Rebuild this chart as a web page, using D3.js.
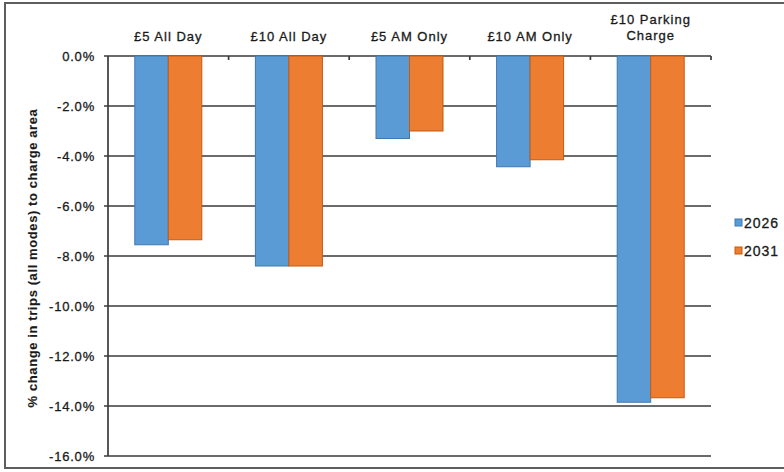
<!DOCTYPE html>
<html>
<head>
<meta charset="utf-8">
<script src="https://cdn.jsdelivr.net/npm/d3@7"></script>
<style>
  body { margin: 0; background: #fff; }
  text { font-family: "Liberation Sans", Arial, sans-serif; fill: #1a1a1a; stroke: #1a1a1a; stroke-width: 0.3px; }
</style>
</head>
<body>
<script>
// chart data
var categories = ["£5 All Day", "£10 All Day", "£5 AM Only", "£10 AM Only", "£10 Parking Charge"];
var series = ["2026", "2031"];
var values2026 = [-7.55, -8.4, -3.3, -4.43, -13.85];
var values2031 = [-7.35, -8.4, -3.0, -4.15, -13.67];
var yTicks = [0, -2, -4, -6, -8, -10, -12, -14, -16];

var colors = {"2026": "#5b9bd5", "2031": "#ed7d31"};
var edges = {"2026": "#3e78b0", "2031": "#c55a11"};

var width = 784, height = 472;
var svg = d3.select("body").append("svg")
    .attr("width", width)
    .attr("height", height);

// frame round the chart
svg.append("rect")
    .attr("x", 5).attr("y", 3)
    .attr("width", 820).attr("height", 465)
    .attr("fill", "none")
    .attr("stroke", "#5e5e5e")
    .attr("stroke-width", 2);

var x0 = d3.scaleBand().domain(categories).range([108, 711]).padding(0);
var x1 = d3.scaleBand().domain(series).range([0, x0.bandwidth()])
    .paddingInner(0).paddingOuter(0.8);
var y = d3.scaleLinear().domain([-16, 0]).range([456, 56]);

// gridlines
svg.append("g")
  .selectAll("line")
  .data(yTicks)
  .enter().append("line")
    .attr("x1", 104).attr("x2", 711)
    .attr("y1", function(d){ return y(d); })
    .attr("y2", function(d){ return y(d); })
    .attr("stroke", "#3a3a3a")
    .attr("stroke-width", 1.7);

// y axis line
svg.append("line")
    .attr("x1", 108).attr("x2", 108)
    .attr("y1", y(0)).attr("y2", y(-16))
    .attr("stroke", "#3a3a3a")
    .attr("stroke-width", 1.7);

// y tick labels
svg.append("g")
  .selectAll("text")
  .data(yTicks)
  .enter().append("text")
    .attr("x", 95)
    .attr("y", function(d){ return y(d); })
    .attr("dy", "0.36em")
    .attr("text-anchor", "end")
    .style("font-size", "13px")
    .style("letter-spacing", "0.8px")
    .text(function(d){ return d.toFixed(1) + "%"; });

// bars
var rows = categories.map(function(c, i) {
  return {cat: c, vals: [{s: "2026", v: values2026[i]}, {s: "2031", v: values2031[i]}]};
});

var groups = svg.append("g")
  .selectAll("g")
  .data(rows)
  .enter().append("g")
    .attr("transform", function(d){ return "translate(" + x0(d.cat) + ",0)"; });

groups.selectAll("rect")
  .data(function(d){ return d.vals; })
  .enter().append("rect")
    .attr("x", function(d){ return x1(d.s); })
    .attr("y", y(0))
    .attr("width", x1.bandwidth())
    .attr("height", function(d){ return y(d.v) - y(0); })
    .attr("fill", function(d){ return colors[d.s]; })
    .attr("stroke", function(d){ return edges[d.s]; })
    .attr("stroke-width", 1);

// category ticks on the zero line
svg.append("g")
  .selectAll("line")
  .data(categories.map(function(c){ return x0(c) + x0.bandwidth(); }))
  .enter().append("line")
    .attr("x1", function(d){ return d; }).attr("x2", function(d){ return d; })
    .attr("y1", y(0)).attr("y2", y(0) + 4)
    .attr("stroke", "#3a3a3a")
    .attr("stroke-width", 1.7);

// category labels above the plot
var catLabels = svg.append("g")
  .selectAll("text")
  .data(categories)
  .enter().append("text")
    .attr("text-anchor", "middle")
    .style("font-size", "13px")
    .style("letter-spacing", "1px");

catLabels.each(function(d) {
  var t = d3.select(this);
  var cx = x0(d) + x0.bandwidth() / 2;
  if (d === "£10 Parking Charge") {
    t.append("tspan").attr("x", cx).attr("y", 24).text("£10 Parking");
    t.append("tspan").attr("x", cx).attr("y", 40).text("Charge");
  } else {
    t.append("tspan").attr("x", cx).attr("y", 41).text(d);
  }
});

// y axis title
svg.append("text")
    .attr("transform", "translate(37,258) rotate(-90)")
    .attr("text-anchor", "middle")
    .style("font-size", "13px")
    .style("font-weight", "bold")
    .style("stroke-width", "0.1px")
    .style("letter-spacing", "0.6px")
    .text("% change in trips (all modes) to charge area");

// legend
var legend = svg.append("g")
  .selectAll("g")
  .data(series)
  .enter().append("g")
    .attr("transform", function(d, i){ return "translate(735," + (223 + i * 28) + ")"; });

legend.append("rect")
    .attr("x", 0).attr("y", -4)
    .attr("width", 7).attr("height", 7)
    .attr("fill", function(d){ return colors[d]; })
    .attr("stroke", function(d){ return edges[d]; })
    .attr("stroke-width", 1);

legend.append("text")
    .attr("x", 9)
    .attr("dy", "0.36em")
    .style("font-size", "14px")
    .style("letter-spacing", "1px")
    .text(function(d){ return d; });
</script>
</body>
</html>
